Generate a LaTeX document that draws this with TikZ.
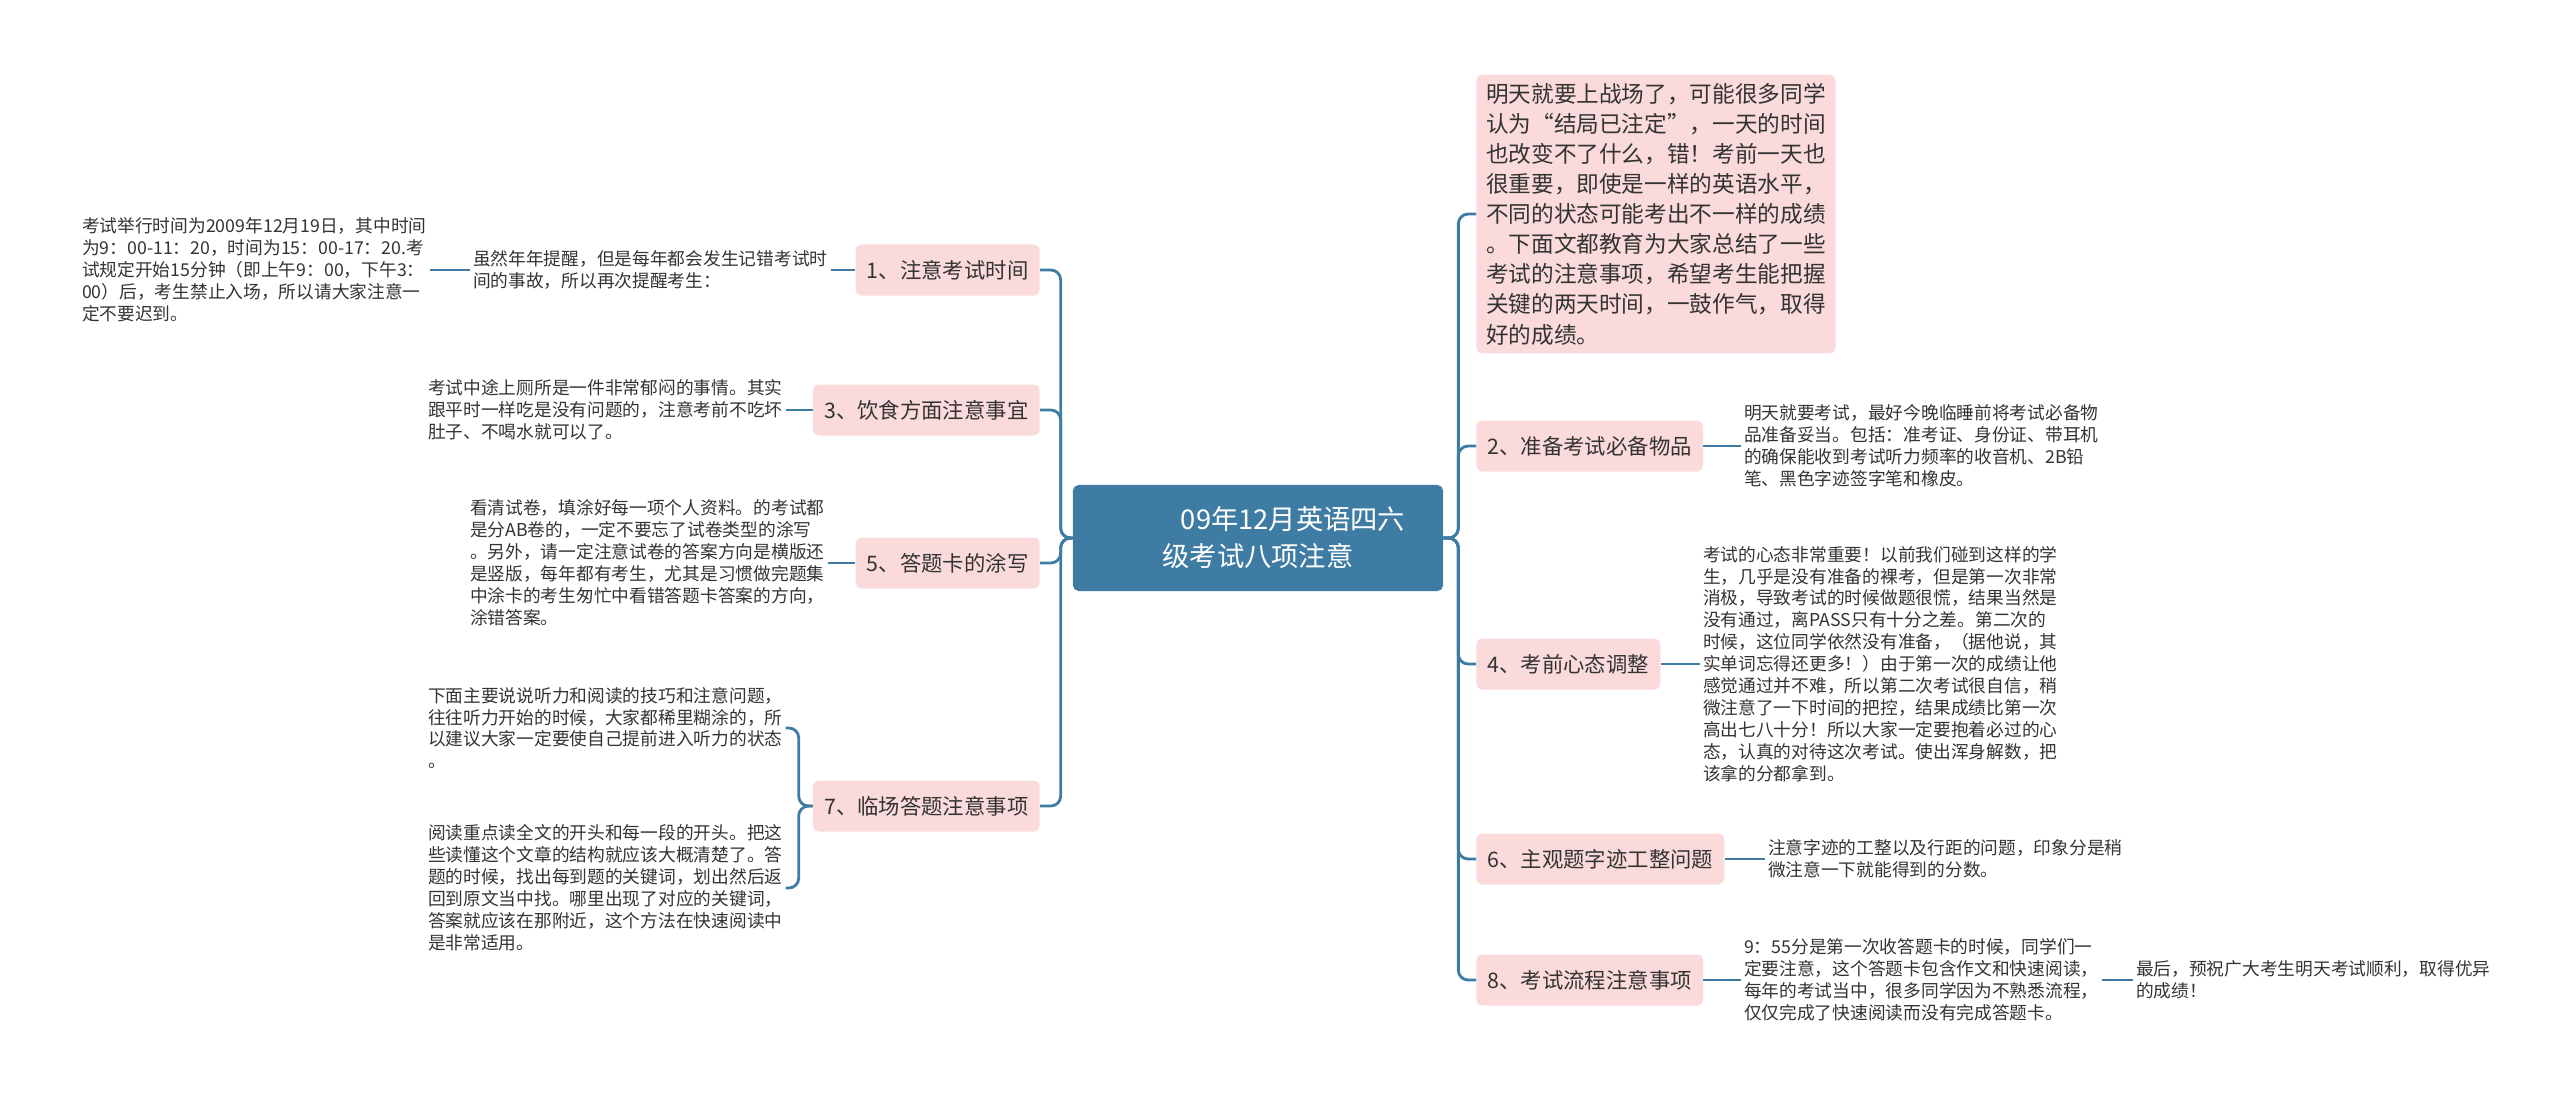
\documentclass[tikz,border=0pt]{standalone}
\usepackage{fontspec}
\setmainfont{Noto Sans CJK SC}
\usepackage{xcolor}
\usepackage{tikz}

\definecolor{biru}{HTML}{3F7CA4}
\definecolor{merahmuda}{HTML}{FADADA}
\definecolor{teks}{HTML}{333333}

\begin{document}
\begin{tikzpicture}[
    x=0.025cm, y=-0.025cm,
    pusat/.style={fill=biru, text=white, rounded corners=4pt, align=center,
                  minimum width=9.25cm, minimum height=2.65cm,
                  font=\fontsize{19.4}{26.3}\selectfont},
    cabang/.style={fill=merahmuda, text=teks, rounded corners=4pt,
                   minimum height=1.275cm, inner xsep=8pt,
                   font=\fontsize{15.2}{18}\selectfont},
    kotak/.style={fill=merahmuda, text=teks, rounded corners=4pt, align=left,
                  inner xsep=7pt, inner ysep=6pt,
                  font=\fontsize{16.1}{21.4}\selectfont},
    daun/.style={text=teks, align=left, inner sep=2pt,
                 font=\fontsize{12.6}{15.6}\selectfont},
    garis/.style={draw=biru, line width=2pt, rounded corners=7pt}
  ]
    \useasboundingbox (0,0) rectangle (2560,1106);

    \node[pusat] (judul) at (1258,538)
      {\hspace*{1.75cm}09年12月英语四六\\级考试八项注意};

    \node[cabang, anchor=east] (waktu) at (1040,270) {1、注意考试时间};
    \node[cabang, anchor=east] (makan) at (1040,410) {3、饮食方面注意事宜};
    \node[cabang, anchor=east] (lembar) at (1040,563) {5、答题卡的涂写};
    \node[cabang, anchor=east] (jelang) at (1040,806) {7、临场答题注意事项};

    \node[kotak, anchor=west] (pembuka) at (1476,214)
      {明天就要上战场了，可能很多同学\\
       认为“结局已注定”，一天的时间\\
       也改变不了什么，错！考前一天也\\
       很重要，即使是一样的英语水平，\\
       不同的状态可能考出不一样的成绩\\
       。下面文都教育为大家总结了一些\\
       考试的注意事项，希望考生能把握\\
       关键的两天时间，一鼓作气，取得\\
       好的成绩。};
    \node[cabang, anchor=west] (alat) at (1476,446) {2、准备考试必备物品};
    \node[cabang, anchor=west] (mental) at (1476,664) {4、考前心态调整};
    \node[cabang, anchor=west] (tulisan) at (1476,859) {6、主观题字迹工整问题};
    \node[cabang, anchor=west] (alur) at (1476,980) {8、考试流程注意事项};

    \node[daun, anchor=west] (waktuA) at (470,270)
      {虽然年年提醒，但是每年都会发生记错考试时\\
       间的事故，所以再次提醒考生：};
    \node[daun, anchor=west] (waktuB) at (79,270)
      {考试举行时间为2009年12月19日，其中时间\\
       为9：00-11：20，时间为15：00-17：20.考\\
       试规定开始15分钟（即上午9：00，下午3：\\
       00）后，考生禁止入场，所以请大家注意一\\
       定不要迟到。};
    \node[daun, anchor=west] (makanA) at (425,410)
      {考试中途上厕所是一件非常郁闷的事情。其实\\
       跟平时一样吃是没有问题的，注意考前不吃坏\\
       肚子、不喝水就可以了。};
    \node[daun, anchor=west] (lembarA) at (467,563)
      {看清试卷，填涂好每一项个人资料。的考试都\\
       是分AB卷的，一定不要忘了试卷类型的涂写\\
       。另外，请一定注意试卷的答案方向是横版还\\
       是竖版，每年都有考生，尤其是习惯做完题集\\
       中涂卡的考生匆忙中看错答题卡答案的方向，\\
       涂错答案。};
    \node[daun, anchor=west] (jelangA) at (425,728)
      {下面主要说说听力和阅读的技巧和注意问题，\\
       往往听力开始的时候，大家都稀里糊涂的，所\\
       以建议大家一定要使自己提前进入听力的状态\\
       。};
    \node[daun, anchor=west] (jelangB) at (425,888)
      {阅读重点读全文的开头和每一段的开头。把这\\
       些读懂这个文章的结构就应该大概清楚了。答\\
       题的时候，找出每到题的关键词，划出然后返\\
       回到原文当中找。哪里出现了对应的关键词，\\
       答案就应该在那附近，这个方法在快速阅读中\\
       是非常适用。};

    \node[daun, anchor=west] (alatA) at (1741,446)
      {明天就要考试，最好今晚临睡前将考试必备物\\
       品准备妥当。包括：准考证、身份证、带耳机\\
       的确保能收到考试听力频率的收音机、2B铅\\
       笔、黑色字迹签字笔和橡皮。};
    \node[daun, anchor=west] (mentalA) at (1700,664)
      {考试的心态非常重要！以前我们碰到这样的学\\
       生，几乎是没有准备的裸考，但是第一次非常\\
       消极，导致考试的时候做题很慌，结果当然是\\
       没有通过，离PASS只有十分之差。第二次的\\
       时候，这位同学依然没有准备，（据他说，其\\
       实单词忘得还更多！）由于第一次的成绩让他\\
       感觉通过并不难，所以第二次考试很自信，稍\\
       微注意了一下时间的把控，结果成绩比第一次\\
       高出七八十分！所以大家一定要抱着必过的心\\
       态，认真的对待这次考试。使出浑身解数，把\\
       该拿的分都拿到。};
    \node[daun, anchor=west] (tulisanA) at (1765,859)
      {注意字迹的工整以及行距的问题，印象分是稍\\
       微注意一下就能得到的分数。};
    \node[daun, anchor=west] (alurA) at (1741,980)
      {9：55分是第一次收答题卡的时候，同学们一\\
       定要注意，这个答题卡包含作文和快速阅读，\\
       每年的考试当中，很多同学因为不熟悉流程，\\
       仅仅完成了快速阅读而没有完成答题卡。};
    \node[daun, anchor=west] (alurB) at (2133,980)
      {最后，预祝广大考生明天考试顺利，取得优异\\
       的成绩！};

    \draw[garis] (judul.west) -- ++(-12,0) |- (waktu.east);
    \draw[garis] (judul.west) -- ++(-12,0) |- (makan.east);
    \draw[garis] (judul.west) -- ++(-12,0) |- (lembar.east);
    \draw[garis] (judul.west) -- ++(-12,0) |- (jelang.east);
    \draw[garis] (judul.east) -- ++(15,0) |- (pembuka.west);
    \draw[garis] (judul.east) -- ++(15,0) |- (alat.west);
    \draw[garis] (judul.east) -- ++(15,0) |- (mental.west);
    \draw[garis] (judul.east) -- ++(15,0) |- (tulisan.west);
    \draw[garis] (judul.east) -- ++(15,0) |- (alur.west);

    \draw[garis] (waktu.west) -- (waktuA.east);
    \draw[garis] (waktuA.west) -- (waktuB.east);
    \draw[garis] (makan.west) -- (makanA.east);
    \draw[garis] (lembar.west) -- (lembarA.east);
    \draw[garis] (jelang.west) -- ++(-14,0) |- (jelangA.east);
    \draw[garis] (jelang.west) -- ++(-14,0) |- (jelangB.east);
    \draw[garis] (alat.east) -- (alatA.west);
    \draw[garis] (mental.east) -- (mentalA.west);
    \draw[garis] (tulisan.east) -- (tulisanA.west);
    \draw[garis] (alur.east) -- (alurA.west);
    \draw[garis] (alurA.east) -- (alurB.west);
  \end{tikzpicture}
\end{document}
